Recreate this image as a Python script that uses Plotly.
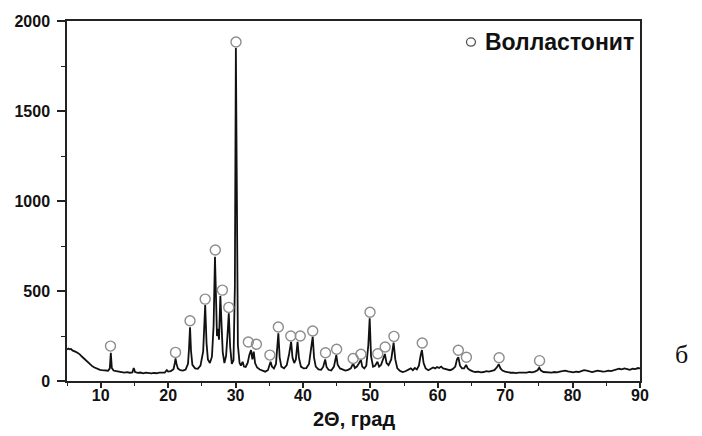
import plotly.graph_objects as go

# Diffraction profile: 2θ (degrees) and intensity (counts)
two_theta = [
    5.0, 5.2, 5.4, 5.6, 5.8, 6.0, 6.3, 6.6, 6.9, 7.2, 7.5, 7.8, 8.1, 8.4, 8.7, 9.0, 9.3, 9.6, 9.9,
    10.2, 10.5, 10.8, 11.1, 11.35, 11.5, 11.65, 11.9, 12.3, 12.7, 13.1, 13.5, 13.9, 14.3, 14.7,
    14.9, 15.1, 15.5, 15.9, 16.3, 16.7, 17.1, 17.5, 17.9, 18.3, 18.7, 19.1, 19.5, 19.8,
    20.0, 20.4, 20.8, 21.0, 21.1, 21.25, 21.45, 21.8, 22.2, 22.6, 22.95, 23.1, 23.25, 23.4, 23.6,
    24.0, 24.4, 24.8, 25.2, 25.5, 25.7, 25.9, 26.2, 26.5, 26.75, 26.95, 27.1, 27.25, 27.4, 27.55,
    27.75, 27.9, 28.1, 28.35, 28.6, 28.8, 29.0, 29.2, 29.45, 29.7, 29.9, 30.05, 30.2, 30.35,
    30.6, 30.8, 31.05, 31.25, 31.5, 31.8, 32.05, 32.3, 32.5, 32.7, 32.9, 33.2, 33.6, 34.0, 34.4,
    34.8, 35.0, 35.2, 35.4, 35.7, 36.0, 36.2, 36.35, 36.55, 36.8, 37.2, 37.6, 37.95, 38.25, 38.45,
    38.7, 38.95, 39.2, 39.4, 39.7, 40.1, 40.5, 40.9, 41.2, 41.45, 41.65, 41.9, 42.3, 42.7, 43.0,
    43.3, 43.5, 43.8, 44.2, 44.6, 44.95, 45.15, 45.5, 45.9, 46.3, 46.7, 47.1, 47.45, 47.7, 48.0,
    48.3, 48.6, 48.8, 49.1, 49.4, 49.7, 49.9, 50.1, 50.4, 50.7, 51.05, 51.3, 51.6, 51.9, 52.15,
    52.4, 52.7, 53.1, 53.45, 53.7, 54.0, 54.4, 54.8, 55.2, 55.6, 56.0, 56.3, 56.6, 56.9, 57.2,
    57.45, 57.65, 57.9, 58.2, 58.6, 59.0, 59.3, 59.6, 59.9, 60.2, 60.5, 60.8, 61.1, 61.4, 61.8,
    62.2, 62.6, 62.85, 63.05, 63.3, 63.6, 63.9, 64.2, 64.45, 64.8, 65.2, 65.6, 66.0, 66.4, 66.8,
    67.2, 67.6, 68.0, 68.4, 68.8, 69.05, 69.3, 69.6, 70.0, 70.4, 70.8, 71.2, 71.6, 72.0, 72.4,
    72.8, 73.2, 73.6, 74.0, 74.4, 74.8, 75.05, 75.3, 75.7, 76.1, 76.5, 76.9, 77.3, 77.7, 78.1,
    78.5, 78.9, 79.3, 79.7, 80.1, 80.5, 80.9, 81.3, 81.7, 82.1, 82.5, 82.9, 83.3, 83.7, 84.1,
    84.5, 84.9, 85.3, 85.7, 86.1, 86.5, 86.9, 87.3, 87.7, 88.1, 88.5, 88.9, 89.3, 89.7, 90.0,
]
intensity = [
    175, 180, 176, 178, 170, 168, 162, 155, 148, 136, 125, 113, 102, 93, 84, 76, 70, 66, 62,
    60, 58, 56, 57, 70, 157, 72, 58, 55, 52, 50, 47, 49, 46, 48,
    72, 50, 45, 47, 43, 46, 44, 42, 45, 43, 46, 48, 47, 60,
    52, 55, 66, 100, 126, 95, 70, 60, 58, 64, 95, 180, 298, 165, 90,
    70, 68, 85, 165, 422, 210, 120, 100, 135, 310, 690, 400, 250, 290, 230,
    472, 300, 160, 100, 140, 250, 376, 190, 95, 115, 520, 1850, 700, 200,
    100, 85, 107, 80, 78, 100, 145, 172, 120, 163, 100, 75, 64, 58, 52,
    60, 85, 107, 80, 70, 95, 170, 265, 130, 80, 70, 88, 150, 218, 130,
    100, 120, 218, 130, 80, 70, 72, 95, 170, 246, 130, 80, 65, 62, 78,
    120, 78, 62, 58, 80, 144, 90, 70, 62, 58, 62, 70, 98, 72, 80,
    95, 117, 80, 70, 85, 200, 348, 140, 80, 85, 107, 80, 90, 120, 150,
    100, 88, 120, 213, 120, 70, 56, 50, 54, 62, 70, 60, 72, 64, 85,
    140, 172, 100, 70, 60, 66, 75, 70, 78, 72, 80, 70, 68, 62, 60,
    66, 80, 120, 132, 85, 70, 70, 89, 70, 60, 54, 50, 52, 48, 50,
    55, 52, 55, 60, 78, 93, 70, 58, 52, 48, 46, 47, 44, 46, 45,
    48, 46, 50, 48, 52, 60, 74, 58, 50, 48, 50, 47, 50, 48, 52,
    55, 58, 54, 50, 48, 52, 50, 55, 60, 58, 52, 50, 54, 58, 55,
    52, 54, 58, 55, 58, 62, 68, 65, 70, 66, 62, 68, 66, 72, 70,
]

# Wollastonite reflections: marker positions above the peaks
marker_theta = [11.45, 21.1, 23.25, 25.5, 27.0, 28.05, 29.0, 30.07, 31.9, 33.1, 35.1, 36.35,
                38.2, 39.6, 41.45, 43.35, 45.0, 47.45, 48.6, 49.95, 51.1, 52.2, 53.5, 57.7,
                63.05, 64.25, 69.1, 75.1]
marker_level = [194, 159, 335, 455, 728, 505, 409, 1883, 217, 204, 144, 300,
                250, 250, 278, 157, 176, 125, 149, 382, 151, 189, 248, 211,
                171, 132, 129, 113]

x_ticks = [10, 20, 30, 40, 50, 60, 70, 80, 90]
y_ticks = [0, 500, 1000, 1500, 2000]

SANS = "Liberation Sans, Arial, sans-serif"
INK = "#111111"

fig = go.Figure()
fig.add_trace(go.Scatter(
    x=two_theta, y=intensity, mode="lines",
    line=dict(color=INK, width=1.8),
    hoverinfo="skip", showlegend=False,
))
fig.add_trace(go.Scatter(
    x=marker_theta, y=marker_level, mode="markers",
    marker=dict(symbol="circle-open", size=10, color="#8c8c8c", line=dict(width=1.4)),
    showlegend=False,
))

axis_common = dict(
    showline=True, linecolor="#222222", linewidth=1.5, mirror=True,
    showgrid=False, zeroline=False, ticks="outside", tickwidth=1.5,
    tickcolor="#222222", automargin=False,
    tickfont=dict(family=SANS, size=16, color=INK, weight="bold"),
)

fig.update_xaxes(
    range=[5, 90], tickvals=x_ticks, ticklen=5, ticklabelstandoff=-6,
    minor=dict(ticks="outside", ticklen=3, tickwidth=1.2, tickcolor="#222222", dtick=5, tick0=5),
    **axis_common,
)
fig.update_yaxes(
    range=[0, 2000], tickvals=y_ticks, ticklen=8, ticklabelstandoff=4,
    minor=dict(ticks="outside", ticklen=4, tickwidth=1.2, tickcolor="#222222", dtick=250, tick0=0),
    **axis_common,
)

# X-axis title placed below the tick labels
fig.add_annotation(xref="paper", yref="paper", x=0.5, y=-0.106,
                   xanchor="center", yanchor="middle", showarrow=False,
                   text="2Θ, град",
                   font=dict(family=SANS, size=20, color=INK, weight="bold"))

# Legend: open circle with the phase name
fig.add_shape(type="circle", xref="paper", yref="paper",
              x0=0.6972, x1=0.7129, y0=0.930, y1=0.953,
              line=dict(color="#555555", width=1.3))
fig.add_annotation(xref="paper", yref="paper", x=0.7255, y=0.9417,
                   xanchor="left", yanchor="middle", showarrow=False,
                   text="Волластонит",
                   font=dict(family=SANS, size=23, color=INK, weight="bold"))

# Panel letter
fig.add_annotation(xref="paper", yref="paper", x=1.0716, y=0.075,
                   xanchor="center", yanchor="middle", showarrow=False,
                   text="б", font=dict(family="Liberation Serif, Times New Roman, serif",
                                       size=26, color=INK))

fig.update_layout(
    width=702, height=436,
    margin=dict(l=67, r=62, t=21, b=55),
    paper_bgcolor="white", plot_bgcolor="white",
)

fig.write_html("out.html")
